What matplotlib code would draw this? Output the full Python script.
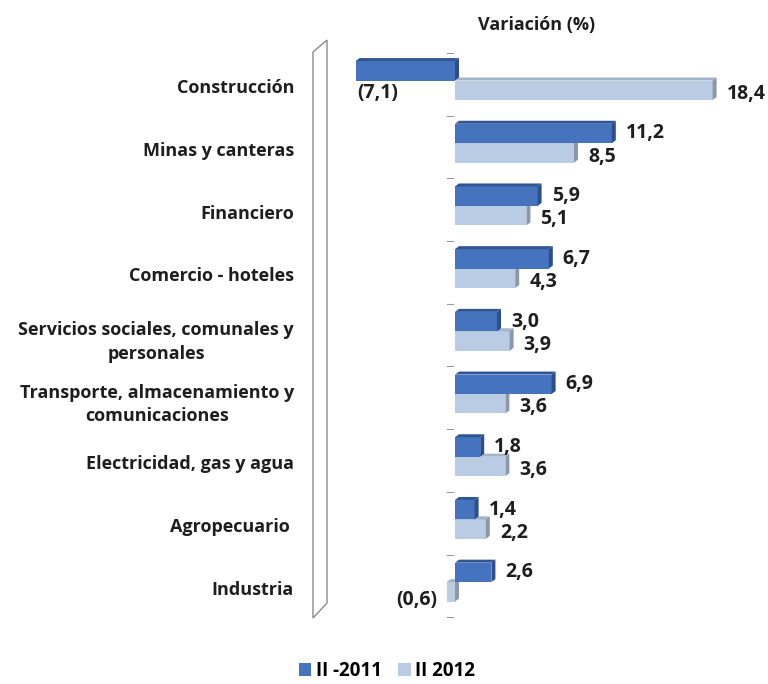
import matplotlib
matplotlib.use("Agg")
import matplotlib.pyplot as plt
from matplotlib.patches import Polygon, Patch
import numpy as np

plt.rcParams['font.family'] = ['Open Sans', 'DejaVu Sans']

categories = [
    "Construcción",
    "Minas y canteras",
    "Financiero",
    "Comercio - hoteles",
    "Servicios sociales, comunales y\npersonales",
    "Transporte, almacenamiento y\ncomunicaciones",
    "Electricidad, gas y agua",
    "Agropecuario ",
    "Industria",
]
series_2011 = [-7.1, 11.2, 5.9, 6.7, 3.0, 6.9, 1.8, 1.4, 2.6]
series_2012 = [18.4, 8.5, 5.1, 4.3, 3.9, 3.6, 3.6, 2.2, -0.6]
labels_2011 = ["(7,1)", "11,2", "5,9", "6,7", "3,0", "6,9", "1,8", "1,4", "2,6"]
labels_2012 = ["18,4", "8,5", "5,1", "4,3", "3,9", "3,6", "3,6", "2,2", "(0,6)"]
legend_labels = ["II -2011", "II 2012"]
title = "Variación (%)"

W, H = 768, 684
fig = plt.figure(figsize=(W / 100, H / 100), dpi=100)

# plot area in pixel units
L, R, T, B = 330, 768, 30, 640
ax = fig.add_axes([L / W, 1 - B / H, (R - L) / W, (B - T) / H])
px_x = 14.0    # pixels per unit of variation
px_y = 62.7    # pixels per category
x0, y0 = 455, 80.5
ax.set_xlim((L - x0) / px_x, (R - x0) / px_x)
ax.set_ylim((B - y0) / px_y, (T - y0) / px_y)
for s in ax.spines.values():
    s.set_visible(False)
ax.set_xticks([])

ypos = np.arange(len(categories))
h = 0.31
dx = 4 / px_x
dy = 3 / px_y

dark_front, dark_top, dark_side = "#4673BE", "#2F5595", "#2B4F8E"
light_front, light_top, light_side = "#B9CCE4", "#A2B2C8", "#8C98A8"
text_col = "#1e1e1e"


def bar3d(values, yc, front, top, side):
    ax.barh(yc, values, height=h, color=front, edgecolor="none", zorder=3)
    for v, y in zip(values, yc):
        lo, hi = min(0, v), max(0, v)
        ytop = y - h / 2
        ax.add_patch(Polygon([(lo, ytop), (hi, ytop), (hi + dx, ytop - dy), (lo + dx, ytop - dy)],
                             closed=True, color=top, lw=0, zorder=3))
        ax.add_patch(Polygon([(hi, ytop), (hi + dx, ytop - dy), (hi + dx, ytop + h - dy), (hi, ytop + h)],
                             closed=True, color=side, lw=0, zorder=3))


bar3d(series_2012, ypos + h / 2, light_front, light_top, light_side)
bar3d(series_2011, ypos - h / 2, dark_front, dark_top, dark_side)

# category ticks on the zero axis
for i in range(len(categories) + 1):
    ax.plot([-0.55, -0.15], [i - 0.44, i - 0.44], color="#9a9a9a", lw=0.8, zorder=2)

ax.set_yticks(ypos + 0.09)
ax.set_yticklabels(categories, fontsize=13, fontweight="bold", color=text_col,
                   ha="right", multialignment="center", linespacing=1.4)
ax.tick_params(axis="y", length=0, pad=(L - 294) * 0.72)

# value labels
lab_kw = dict(fontsize=14, fontweight="bold", color=text_col, zorder=5)
gap = 10 / px_x
for v, y, t in zip(series_2011, ypos - h / 2, labels_2011):
    if v >= 0:
        ax.text(v + dx + gap, y, t, ha="left", va="center", **lab_kw)
    else:
        ax.text(v + 0.1, y + 0.35, t, ha="left", va="center", **lab_kw)
for v, y, t in zip(series_2012, ypos + h / 2, labels_2012):
    if v >= 0:
        ax.text(v + dx + gap, y + 0.06, t, ha="left", va="center", **lab_kw)
    else:
        ax.text(v - 0.7, y + 0.13, t, ha="right", va="center", **lab_kw)

# side wall of the 3D frame
wall = [(313, 52), (327, 40), (327, 603), (313, 618)]
fig.add_artist(Polygon([(x / W, 1 - y / H) for x, y in wall], closed=True,
                       facecolor="white", edgecolor="#8a8a8a", lw=1.0,
                       transform=fig.transFigure, zorder=1))

fig.text(537 / W, 1 - 25 / H, title, ha="center", va="center",
         fontsize=13, fontweight="bold", color=text_col)

handles = [Patch(facecolor=dark_front, edgecolor="none"),
           Patch(facecolor=light_front, edgecolor="none")]
fig.legend(handles, legend_labels, loc="center", bbox_to_anchor=(387 / W, 1 - 671 / H),
           ncol=2, frameon=False, handlelength=0.65, handleheight=0.65,
           handletextpad=0.25, columnspacing=0.9,
           prop={"size": 13.5, "weight": "bold"})

fig.savefig("out.png", dpi=100, facecolor="white")
